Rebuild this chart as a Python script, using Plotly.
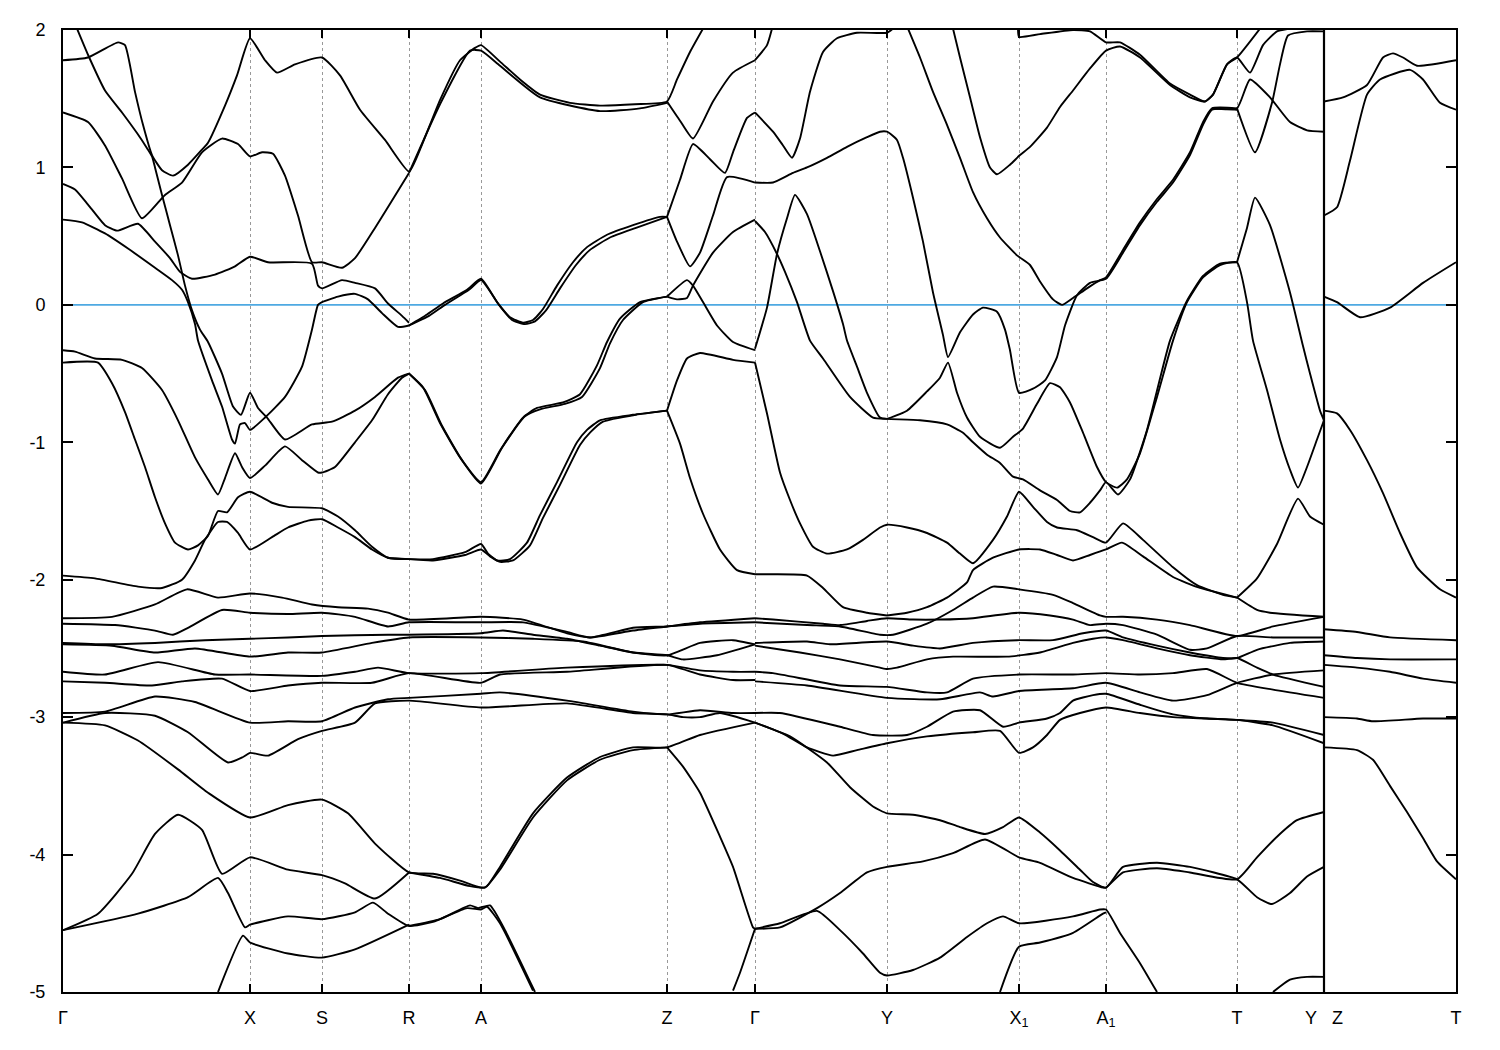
import plotly.graph_objects as go

# high-symmetry path positions and labels
tick_k = [0.0, 1.87, 2.59, 3.46, 4.18, 6.04, 6.92, 8.24, 9.56, 10.43, 11.74, 12.61, 13.93]
tick_lab = ["Γ", "X", "S", "R", "A", "Z", "Γ", "Y", "X<sub>1</sub>", "A<sub>1</sub>", "T",
            "Y\u00a0\u00a0\u00a0Z", "T"]
e_ticks = [2, 1, 0, -1, -2, -3, -4, -5]
e_lab = ["2", "1", "0", "-1", "-2", "-3", "-4", "-5"]

# ---- bands above about -2 eV (k, E in eV) ----
bands_upper = [
    [(0,1.78),(0.25,1.80),(0.55,1.91),(0.62,1.89),(0.72,1.55),(0.80,1.31),(0.89,1.09),(0.99,0.98),(1.10,0.94),(1.25,1.02),(1.39,1.13),(1.45,1.18),(1.62,1.45),(1.74,1.67),(1.87,1.94),(2.02,1.78),(2.14,1.69),(2.32,1.75),(2.59,1.80),(2.77,1.67),(2.97,1.42),(3.22,1.20),(3.46,0.97),(3.57,1.13),(3.77,1.49),(3.97,1.78),(4.12,1.87),(4.18,1.89),(4.37,1.77),(4.57,1.64),(4.77,1.53),(5.07,1.47),(5.37,1.45),(5.72,1.46),(6.04,1.48),(6.14,1.64),(6.27,1.84),(6.40,2.01)],
    [(3.46,0.96),(3.77,1.46),(4.07,1.85),(4.18,1.85),(4.37,1.74),(4.77,1.51),(5.37,1.41),(5.77,1.43),(6.04,1.47)],
    [(0,1.40),(0.25,1.33),(0.42,1.16),(0.59,0.92),(0.79,0.63),(1.02,0.80),(1.19,0.89),(1.39,1.11),(1.59,1.21),(1.75,1.17),(1.87,1.08),(1.99,1.11),(2.10,1.10),(2.22,0.94),(2.35,0.65),(2.49,0.31),(2.59,0.31),(2.79,0.27),(2.92,0.34),(3.12,0.56),(3.46,0.96)],
    [(0.14,2.01),(0.25,1.82),(0.42,1.56),(0.59,1.40),(0.74,1.25),(0.84,1.14),(0.89,1.08),(0.92,1.00),(0.99,0.80),(1.07,0.58),(1.15,0.36),(1.22,0.14),(1.29,-0.04),(1.37,-0.18),(1.45,-0.27),(1.59,-0.50),(1.70,-0.74),(1.78,-0.80),(1.87,-0.64),(1.95,-0.75),(2.04,-0.82),(2.22,-0.98),(2.49,-0.87),(2.69,-0.85),(2.92,-0.77),(3.12,-0.67),(3.35,-0.53),(3.46,-0.50)],
    [(0,0.62),(0.19,0.60),(0.42,0.52),(0.65,0.41),(0.92,0.27),(1.09,0.18),(1.19,0.11),(1.25,0.02),(1.32,-0.14),(1.35,-0.26),(1.49,-0.55),(1.59,-0.74),(1.69,-0.98),(1.72,-1.01),(1.77,-0.87),(1.82,-0.86),(1.87,-0.91),(2.02,-0.82),(2.22,-0.67),(2.39,-0.45),(2.49,-0.18),(2.55,0.00),(2.59,0.02),(2.75,0.06),(2.92,0.08),(3.05,0.04),(3.19,-0.06),(3.35,-0.16),(3.46,-0.15)],
    [(0,0.88),(0.12,0.84),(0.25,0.73),(0.42,0.58),(0.54,0.54),(0.75,0.59),(0.92,0.46),(1.07,0.34),(1.17,0.24),(1.29,0.19),(1.52,0.22),(1.72,0.28),(1.87,0.35),(2.05,0.31),(2.49,0.30),(2.55,0.14),(2.59,0.12),(2.79,0.18),(2.92,0.16),(3.12,0.12),(3.25,0.01),(3.39,-0.08),(3.46,-0.13)],
    [(0,-0.33),(0.12,-0.34),(0.32,-0.39),(0.59,-0.40),(0.79,-0.46),(0.99,-0.62),(1.15,-0.84),(1.32,-1.11),(1.45,-1.27),(1.55,-1.38),(1.62,-1.26),(1.72,-1.08),(1.79,-1.18),(1.87,-1.26),(2.02,-1.17),(2.22,-1.03),(2.39,-1.13),(2.55,-1.22),(2.59,-1.22),(2.72,-1.18),(2.92,-1.00),(3.09,-0.84),(3.25,-0.65),(3.39,-0.53),(3.46,-0.50)],
    [(3.46,-0.50),(3.60,-0.60),(3.77,-0.86),(3.97,-1.11),(4.18,-1.29),(4.37,-1.06),(4.60,-0.82),(4.74,-0.75),(5.00,-0.71),(5.17,-0.65),(5.34,-0.44),(5.44,-0.27),(5.57,-0.10),(5.77,0.02),(6.04,0.06)],
    [(3.46,-0.50),(3.62,-0.62),(3.79,-0.88),(3.99,-1.13),(4.18,-1.30),(4.39,-1.04),(4.62,-0.81),(4.77,-0.76),(5.02,-0.72),(5.19,-0.67),(5.37,-0.46),(5.47,-0.28),(5.60,-0.11),(5.80,0.02),(6.04,0.06)],
    [(3.46,-0.15),(3.64,-0.07),(3.80,0.01),(4.04,0.11),(4.18,0.19),(4.34,0.02),(4.47,-0.09),(4.60,-0.13),(4.70,-0.11),(4.80,-0.03),(4.94,0.14),(5.10,0.31),(5.24,0.42),(5.44,0.51),(5.70,0.58),(5.97,0.64),(6.04,0.64)],
    [(3.46,-0.15),(3.66,-0.08),(3.82,0.00),(4.06,0.11),(4.18,0.18),(4.36,0.00),(4.49,-0.11),(4.62,-0.14),(4.72,-0.12),(4.83,-0.04),(4.97,0.12),(5.13,0.29),(5.27,0.40),(5.47,0.49),(5.73,0.56),(6.04,0.64)],
    [(6.04,1.48),(6.17,1.34),(6.30,1.21),(6.50,1.48),(6.70,1.69),(6.92,1.78)],
    [(6.04,0.64),(6.17,0.91),(6.30,1.17),(6.47,1.06),(6.62,0.96),(6.70,1.11),(6.84,1.36),(6.92,1.40)],
    [(6.04,0.64),(6.14,0.46),(6.27,0.28),(6.37,0.38),(6.50,0.65),(6.64,0.93),(6.92,0.89)],
    [(6.04,0.06),(6.24,0.18),(6.30,0.14),(6.40,0.02),(6.54,-0.15),(6.70,-0.27),(6.92,-0.33)],
    [(6.04,0.06),(6.14,0.04),(6.24,0.05),(6.30,0.14),(6.50,0.38),(6.70,0.53),(6.92,0.62)],
    [(3.46,-1.85),(3.70,-1.85),(4.02,-1.80),(4.18,-1.74),(4.25,-1.81),(4.34,-1.86),(4.47,-1.85),(4.64,-1.73),(4.77,-1.53),(4.94,-1.29),(5.14,-1.00),(5.24,-0.91),(5.37,-0.84),(5.70,-0.80),(6.04,-0.77)],
    [(3.46,-1.85),(3.70,-1.86),(4.02,-1.82),(4.18,-1.78),(4.27,-1.83),(4.37,-1.87),(4.50,-1.86),(4.67,-1.75),(4.80,-1.55),(4.97,-1.31),(5.17,-1.02),(5.27,-0.93),(5.40,-0.85),(5.73,-0.80),(6.04,-0.77)],
    [(6.04,-0.77),(6.14,-0.55),(6.24,-0.39),(6.37,-0.35),(6.70,-0.40),(6.92,-0.42)],
    [(6.04,-0.77),(6.17,-1.01),(6.27,-1.26),(6.40,-1.52),(6.57,-1.78),(6.74,-1.93),(6.92,-1.96)],
    [(0,-0.42),(0.35,-0.42),(0.49,-0.57),(0.62,-0.78),(0.72,-0.98),(0.82,-1.18),(0.92,-1.40),(1.02,-1.59),(1.12,-1.73),(1.25,-1.78),(1.35,-1.75),(1.45,-1.68),(1.55,-1.50),(1.64,-1.51),(1.75,-1.40),(1.87,-1.36),(2.09,-1.44),(2.25,-1.47),(2.59,-1.48),(2.75,-1.54),(2.92,-1.64),(3.09,-1.76),(3.25,-1.84),(3.46,-1.85)],
    [(0,-1.97),(0.32,-1.99),(0.75,-2.05),(0.99,-2.06),(1.19,-2.00),(1.32,-1.86),(1.42,-1.71),(1.55,-1.58),(1.64,-1.58),(1.75,-1.66),(1.87,-1.78),(2.09,-1.69),(2.25,-1.62),(2.45,-1.57),(2.59,-1.56),(2.75,-1.62),(2.92,-1.69),(3.09,-1.78),(3.25,-1.84),(3.46,-1.85)],
    [(6.92,1.78),(7.04,1.89),(7.09,2.01)],
    [(6.92,1.40),(7.10,1.26),(7.20,1.16),(7.29,1.07),(7.37,1.21),(7.47,1.55),(7.60,1.84),(7.74,1.94),(7.94,1.98),(8.24,1.98),(8.30,2.01)],
    [(6.92,0.89),(7.10,0.89),(7.30,0.96),(7.44,1.00),(7.64,1.07),(7.84,1.15),(8.04,1.22),(8.17,1.26),(8.24,1.26),(8.34,1.20),(8.40,1.07),(8.50,0.78),(8.60,0.46),(8.70,0.09),(8.80,-0.22),(8.85,-0.38),(8.97,-0.20),(9.10,-0.07),(9.20,-0.02),(9.34,-0.05),(9.42,-0.18),(9.47,-0.33),(9.56,-0.64),(9.70,-0.61),(9.82,-0.55),(9.94,-0.38),(10.02,-0.15),(10.14,0.07),(10.27,0.16),(10.43,0.19),(10.60,0.38),(10.77,0.58),(10.94,0.75),(11.10,0.89),(11.27,1.09),(11.40,1.31),(11.49,1.42),(11.74,1.42)],
    [(8.24,-0.83),(8.44,-0.77),(8.64,-0.63),(8.77,-0.53),(8.85,-0.42),(8.94,-0.64),(9.04,-0.82),(9.17,-0.96),(9.37,-1.04),(9.50,-0.96),(9.60,-0.90),(9.74,-0.72),(9.87,-0.57),(9.97,-0.60),(10.07,-0.71),(10.20,-0.93),(10.34,-1.18),(10.43,-1.29),(10.54,-1.33),(10.64,-1.27),(10.77,-1.08),(10.94,-0.67),(11.10,-0.26),(11.24,0.02),(11.40,0.20),(11.57,0.29),(11.74,0.31),(11.84,0.02),(11.90,-0.26),(12.04,-0.62),(12.17,-0.98),(12.27,-1.20),(12.35,-1.33),(12.44,-1.18),(12.54,-0.98),(12.61,-0.84)],
    [(11.74,0.31),(11.84,0.56),(11.92,0.78),(12.07,0.58),(12.27,0.09),(12.40,-0.30),(12.47,-0.50),(12.57,-0.77),(12.61,-0.84)],
    [(6.92,-0.42),(7.04,-0.79),(7.17,-1.22),(7.27,-1.42),(7.37,-1.59),(7.50,-1.76),(7.64,-1.81),(7.84,-1.78),(8.00,-1.71),(8.17,-1.62),(8.24,-1.60),(8.44,-1.62),(8.64,-1.66),(8.84,-1.73),(8.97,-1.81),(9.10,-1.88),(9.30,-1.71),(9.44,-1.54),(9.56,-1.36),(9.70,-1.47),(9.84,-1.58),(9.94,-1.62),(10.14,-1.64),(10.30,-1.69),(10.43,-1.73),(10.60,-1.59),(10.80,-1.71),(11.10,-1.91),(11.34,-2.04),(11.60,-2.11),(11.74,-2.13)],
    [(8.24,-2.26),(8.44,-2.24),(8.64,-2.20),(8.84,-2.13),(9.04,-2.02),(9.10,-1.93),(9.30,-1.84),(9.56,-1.78),(9.77,-1.78),(9.94,-1.82),(10.10,-1.86),(10.27,-1.82),(10.43,-1.78),(10.59,-1.73),(10.80,-1.83),(11.10,-1.98),(11.37,-2.06),(11.74,-2.13)],
    [(6.92,0.61),(7.02,0.53),(7.14,0.37),(7.22,0.24),(7.34,0.02),(7.47,-0.26),(7.60,-0.39),(7.87,-0.67),(8.10,-0.82),(8.24,-0.83),(8.57,-0.84),(8.84,-0.87),(9.00,-0.93),(9.10,-1.00),(9.24,-1.09),(9.37,-1.15),(9.50,-1.25),(9.60,-1.27),(9.77,-1.35),(9.94,-1.42),(10.07,-1.50),(10.17,-1.51),(10.27,-1.44),(10.37,-1.35),(10.43,-1.29),(10.55,-1.38),(10.67,-1.27),(10.84,-0.91),(11.07,-0.26),(11.24,0.03),(11.40,0.21),(11.57,0.30),(11.74,0.31)],
    [(6.92,-0.32),(7.04,-0.02),(7.14,0.37),(7.24,0.63),(7.32,0.80),(7.44,0.66),(7.57,0.39),(7.70,0.10),(7.80,-0.14),(7.84,-0.26),(7.94,-0.45),(8.04,-0.64),(8.17,-0.82),(8.24,-0.83)],
    [(8.45,2.01),(8.57,1.80),(8.70,1.55),(8.84,1.31),(8.97,1.07),(9.10,0.82),(9.24,0.63),(9.37,0.49),(9.54,0.36),(9.67,0.29),(9.77,0.17),(9.90,0.04),(9.99,0.00),(10.10,0.05),(10.24,0.12),(10.37,0.18),(10.43,0.20),(10.60,0.40),(10.77,0.60),(10.94,0.77),(11.10,0.91),(11.27,1.11),(11.40,1.33),(11.49,1.43),(11.74,1.43)],
    [(8.90,2.01),(8.97,1.80),(9.07,1.51),(9.17,1.22),(9.27,1.00),(9.34,0.95),(9.47,1.02),(9.57,1.09),(9.67,1.15),(9.84,1.29),(9.97,1.44),(10.10,1.56),(10.27,1.72),(10.43,1.85),(10.57,1.88),(10.77,1.80),(11.07,1.60),(11.27,1.51),(11.42,1.48),(11.50,1.53),(11.64,1.75),(11.74,1.80),(11.87,1.69),(12.00,1.89),(12.14,1.99),(12.27,2.01)],
    [(9.55,2.01),(9.56,1.95),(9.77,1.97),(10.10,2.00),(10.27,1.99),(10.43,1.91),(10.57,1.91),(10.77,1.82),(11.07,1.61),(11.27,1.53),(11.42,1.48),(11.50,1.53),(11.64,1.75),(11.74,1.80),(11.97,2.01)],
    [(11.49,1.43),(11.74,1.43),(11.87,1.64),(12.07,1.51),(12.27,1.33),(12.44,1.27),(12.61,1.26)],
    [(11.74,1.43),(11.92,1.11),(12.09,1.47),(12.17,1.75),(12.25,1.96),(12.44,1.99),(12.61,1.99)],
    [(11.74,-2.13),(11.94,-1.99),(12.14,-1.74),(12.35,-1.41),(12.47,-1.54),(12.61,-1.60)],
    [(11.74,-2.13),(11.94,-2.22),(12.07,-2.24),(12.61,-2.27)],
    [(6.92,-1.96),(7.10,-1.96),(7.44,-1.97),(7.60,-2.06),(7.80,-2.20),(8.04,-2.24),(8.24,-2.26)],
]

# ---- bands between about -2.2 and -5 eV ----
bands_lower = [
    [(0,-2.28),(0.49,-2.27),(0.92,-2.18),(1.24,-2.07),(1.55,-2.13),(1.87,-2.10),(2.19,-2.13),(2.49,-2.18),(2.75,-2.20),(3.05,-2.21),(3.25,-2.24),(3.46,-2.29),(4.18,-2.27),(4.60,-2.29),(5.04,-2.39),(5.27,-2.42),(5.70,-2.37),(6.04,-2.34),(6.37,-2.31),(6.92,-2.28)],
    [(0,-2.32),(0.52,-2.33),(0.92,-2.37),(1.10,-2.40),(1.25,-2.35),(1.59,-2.22),(1.87,-2.24),(2.25,-2.25),(2.59,-2.24),(2.92,-2.27),(3.25,-2.34),(3.46,-2.31),(4.18,-2.31),(4.60,-2.31),(5.04,-2.38),(5.27,-2.42),(5.70,-2.35),(6.04,-2.34),(6.37,-2.32),(6.92,-2.31)],
    [(0,-2.46),(0.42,-2.47),(0.92,-2.46),(1.42,-2.44),(1.87,-2.43),(2.25,-2.42),(2.59,-2.41),(3.25,-2.40),(3.46,-2.40),(4.18,-2.39),(4.40,-2.37),(4.70,-2.40),(5.04,-2.43),(5.37,-2.48),(5.70,-2.53),(6.04,-2.55),(6.37,-2.46),(6.70,-2.44),(6.92,-2.47)],
    [(0,-2.47),(0.49,-2.48),(0.92,-2.53),(1.32,-2.50),(1.87,-2.56),(2.25,-2.53),(2.59,-2.53),(3.09,-2.46),(3.46,-2.42),(4.18,-2.42),(4.70,-2.43),(5.20,-2.45),(5.70,-2.53),(6.04,-2.55),(6.20,-2.58),(6.54,-2.55),(6.92,-2.47)],
    [(0,-2.67),(0.42,-2.69),(0.95,-2.60),(1.52,-2.69),(1.87,-2.69),(2.59,-2.70),(2.92,-2.67),(3.15,-2.64),(3.46,-2.68),(4.18,-2.68),(5.04,-2.64),(6.04,-2.62),(6.37,-2.66),(6.70,-2.67),(6.92,-2.67)],
    [(0,-2.74),(0.42,-2.75),(0.89,-2.77),(1.19,-2.74),(1.59,-2.72),(1.87,-2.81),(2.25,-2.77),(2.59,-2.75),(3.09,-2.75),(3.46,-2.68),(4.18,-2.75),(4.37,-2.69),(5.04,-2.67),(6.04,-2.62),(6.37,-2.69),(6.70,-2.73),(6.92,-2.73)],
    [(0,-2.97),(0.42,-2.96),(0.92,-2.85),(1.32,-2.89),(1.87,-3.04),(2.25,-3.03),(2.59,-3.03),(2.92,-2.93),(3.25,-2.87),(3.46,-2.86),(4.18,-2.83),(4.37,-2.82),(5.04,-2.88),(5.70,-2.96),(6.04,-2.98),(6.37,-2.95),(6.70,-2.97),(6.92,-2.97)],
    [(0,-3.04),(0.42,-2.97),(0.92,-2.99),(1.25,-3.11),(1.65,-3.33),(1.80,-3.29),(1.87,-3.26),(2.05,-3.28),(2.35,-3.16),(2.59,-3.10),(2.92,-3.04),(3.12,-2.90),(3.46,-2.88),(4.18,-2.93),(5.04,-2.90),(5.70,-2.97),(6.04,-2.98),(6.20,-3.00),(6.37,-3.00),(6.57,-2.97),(6.92,-3.04)],
    [(0,-3.04),(0.42,-3.06),(0.75,-3.17),(1.15,-3.38),(1.45,-3.55),(1.87,-3.73),(2.25,-3.64),(2.59,-3.60),(2.85,-3.70),(3.12,-3.92),(3.46,-4.13),(3.70,-4.14),(3.97,-4.19),(4.18,-4.24),(4.24,-4.23),(4.37,-4.09),(4.70,-3.70),(5.04,-3.44),(5.37,-3.29),(5.70,-3.22),(6.04,-3.22),(6.37,-3.13),(6.92,-3.04)],
    [(3.46,-4.13),(3.77,-4.17),(4.07,-4.23),(4.22,-4.24),(4.37,-4.11),(4.70,-3.73),(5.04,-3.46),(5.37,-3.31),(5.70,-3.24),(6.04,-3.22)],
    [(0,-4.55),(0.35,-4.43),(0.69,-4.14),(0.92,-3.85),(1.15,-3.71),(1.39,-3.82),(1.59,-4.14),(1.87,-4.02),(2.25,-4.11),(2.59,-4.15),(2.82,-4.21),(3.12,-4.32),(3.46,-4.13)],
    [(0,-4.55),(0.75,-4.43),(1.25,-4.31),(1.55,-4.17),(1.65,-4.28),(1.82,-4.53),(1.87,-4.51),(2.25,-4.45),(2.59,-4.47),(2.92,-4.42),(3.10,-4.35),(3.25,-4.43),(3.46,-4.52),(3.70,-4.49),(4.04,-4.39),(4.18,-4.40),(4.24,-4.38),(4.37,-4.50),(4.70,-4.99)],
    [(3.46,-4.52),(3.77,-4.47),(4.07,-4.37),(4.15,-4.39),(4.27,-4.37),(4.42,-4.55),(4.72,-5.00)],
    [(1.55,-5.00),(1.80,-4.59),(1.87,-4.64),(2.25,-4.72),(2.59,-4.75),(2.92,-4.69),(3.46,-4.51)],
    [(6.04,-3.22),(6.20,-3.36),(6.37,-3.55),(6.57,-3.87),(6.70,-4.09),(6.90,-4.53),(6.92,-4.54)],
    [(6.70,-4.99),(6.77,-4.86),(6.92,-4.54)],
    [(6.92,-2.28),(7.10,-2.29),(7.60,-2.32),(7.77,-2.33),(8.04,-2.30),(8.24,-2.28),(8.50,-2.29),(8.77,-2.29),(9.10,-2.28),(9.56,-2.24),(9.87,-2.26),(10.10,-2.29),(10.27,-2.33),(10.43,-2.32),(10.60,-2.33),(10.94,-2.40),(11.27,-2.51),(11.44,-2.50),(11.74,-2.41),(12.10,-2.42),(12.61,-2.42)],
    [(6.92,-2.31),(7.44,-2.33),(7.77,-2.34),(8.17,-2.40),(8.30,-2.40),(8.64,-2.32),(8.90,-2.22),(9.10,-2.13),(9.30,-2.05),(9.56,-2.07),(9.90,-2.11),(10.10,-2.17),(10.37,-2.26),(10.43,-2.27),(10.60,-2.27),(10.94,-2.29),(11.27,-2.33),(11.74,-2.41),(12.10,-2.34),(12.61,-2.27)],
    [(6.92,-2.46),(7.44,-2.45),(7.67,-2.47),(8.24,-2.45),(8.50,-2.48),(8.77,-2.50),(9.10,-2.46),(9.54,-2.44),(9.90,-2.44),(10.20,-2.39),(10.43,-2.37),(10.60,-2.42),(10.94,-2.48),(11.27,-2.53),(11.60,-2.57),(11.74,-2.57),(11.94,-2.51),(12.27,-2.46),(12.61,-2.45)],
    [(6.92,-2.48),(7.37,-2.53),(7.77,-2.58),(8.17,-2.64),(8.24,-2.65),(8.34,-2.64),(8.64,-2.58),(8.90,-2.56),(9.44,-2.56),(9.77,-2.53),(10.10,-2.46),(10.30,-2.43),(10.43,-2.42),(10.60,-2.44),(10.94,-2.50),(11.27,-2.55),(11.60,-2.58),(11.74,-2.57),(11.94,-2.64),(12.10,-2.69),(12.61,-2.78)],
    [(6.92,-2.67),(7.10,-2.68),(7.77,-2.77),(8.24,-2.78),(8.64,-2.82),(8.84,-2.82),(9.10,-2.72),(9.56,-2.69),(10.10,-2.69),(10.43,-2.68),(10.77,-2.69),(11.10,-2.68),(11.44,-2.65),(11.74,-2.75),(12.10,-2.80),(12.61,-2.86)],
    [(6.92,-2.74),(7.44,-2.77),(8.24,-2.86),(8.77,-2.87),(9.17,-2.82),(9.30,-2.85),(9.56,-2.81),(10.10,-2.79),(10.43,-2.75),(10.77,-2.82),(11.10,-2.88),(11.44,-2.84),(11.74,-2.75),(12.10,-2.69),(12.61,-2.66)],
    [(6.92,-2.97),(7.17,-2.97),(7.77,-3.07),(8.10,-3.13),(8.44,-3.13),(8.64,-3.07),(8.90,-2.96),(9.17,-2.95),(9.40,-3.07),(9.56,-3.04),(9.84,-3.01),(9.97,-2.97),(10.10,-2.88),(10.30,-2.84),(10.43,-2.83),(10.77,-2.91),(11.10,-2.98),(11.44,-3.01),(11.74,-3.02),(12.10,-3.04),(12.61,-3.13)],
    [(6.92,-3.04),(7.20,-3.12),(7.44,-3.22),(7.70,-3.28),(7.94,-3.24),(8.24,-3.19),(8.64,-3.14),(9.10,-3.11),(9.37,-3.10),(9.56,-3.26),(9.70,-3.22),(9.84,-3.13),(9.97,-3.02),(10.17,-2.97),(10.43,-2.93),(10.77,-2.97),(11.10,-3.00),(11.44,-3.01),(11.74,-3.02),(12.10,-3.06),(12.61,-3.19)],
    [(6.92,-3.04),(7.27,-3.14),(7.64,-3.33),(7.87,-3.51),(8.10,-3.65),(8.24,-3.70),(8.50,-3.71),(8.77,-3.75),(8.97,-3.80),(9.22,-3.85),(9.40,-3.80),(9.56,-3.73),(9.77,-3.84),(9.97,-3.97),(10.17,-4.11),(10.30,-4.20),(10.43,-4.24),(10.60,-4.09),(10.94,-4.06),(11.27,-4.09),(11.74,-4.18),(11.94,-4.31),(12.09,-4.36),(12.27,-4.28),(12.44,-4.16),(12.61,-4.09)],
    [(6.92,-4.54),(7.17,-4.53),(7.54,-4.39),(7.77,-4.28),(8.04,-4.13),(8.24,-4.09),(8.60,-4.05),(8.90,-3.99),(9.22,-3.89),(9.56,-4.02),(9.77,-4.06),(10.10,-4.17),(10.40,-4.24),(10.43,-4.24),(10.60,-4.13),(10.94,-4.10),(11.27,-4.13),(11.74,-4.18),(11.94,-4.02),(12.14,-3.87),(12.34,-3.75),(12.61,-3.69)],
    [(6.92,-4.54),(7.17,-4.50),(7.54,-4.41),(7.77,-4.55),(8.00,-4.72),(8.17,-4.86),(8.24,-4.88),(8.50,-4.84),(8.77,-4.75),(9.04,-4.60),(9.24,-4.50),(9.40,-4.45),(9.56,-4.50),(10.10,-4.45),(10.37,-4.40),(10.43,-4.40),(10.57,-4.57),(10.77,-4.79),(10.94,-5.00)],
    [(9.37,-5.00),(9.56,-4.67),(9.77,-4.64),(10.10,-4.57),(10.40,-4.43),(10.43,-4.42)],
    [(12.10,-5.00),(12.27,-4.91),(12.44,-4.89),(12.61,-4.89)],
]

# ---- Z -> T segment ----
bands_zt = [
    [(12.61,1.48),(12.80,1.51),(13.04,1.60),(13.20,1.80),(13.30,1.83),(13.40,1.80),(13.54,1.74),(13.93,1.78)],
    [(12.61,0.65),(12.74,0.71),(12.87,1.05),(13.04,1.53),(13.17,1.64),(13.47,1.71),(13.60,1.64),(13.77,1.47),(13.93,1.42)],
    [(12.61,0.06),(12.74,0.02),(12.97,-0.09),(13.27,-0.02),(13.60,0.16),(13.93,0.31)],
    [(12.61,-0.77),(12.74,-0.79),(12.87,-0.91),(13.04,-1.13),(13.20,-1.37),(13.37,-1.66),(13.54,-1.91),(13.77,-2.07),(13.93,-2.13)],
    [(12.61,-2.36),(12.94,-2.38),(13.27,-2.42),(13.93,-2.44)],
    [(12.61,-2.55),(12.94,-2.57),(13.27,-2.58),(13.93,-2.58)],
    [(12.61,-2.62),(12.94,-2.64),(13.27,-2.67),(13.60,-2.72),(13.93,-2.75)],
    [(12.61,-3.00),(12.94,-3.01),(13.10,-3.03),(13.60,-3.01),(13.93,-3.01)],
    [(12.61,-3.22),(12.94,-3.24),(13.10,-3.31),(13.27,-3.50),(13.44,-3.69),(13.60,-3.88),(13.74,-4.05),(13.93,-4.18)],
]

fermi_level = 0.0


def to_xy(curves):
    xs, ys = [], []
    for c in curves:
        for k, e in c:
            xs.append(k)
            ys.append(e)
        xs.append(None)
        ys.append(None)
    return xs, ys


fig = go.Figure()
kmin, kmax = tick_k[0], tick_k[-1]
fig.add_trace(go.Scatter(x=[kmin, kmax], y=[fermi_level, fermi_level], mode="lines",
                         line=dict(color="#4ea9e2", width=1.6), hoverinfo="skip", showlegend=False))
for group in (bands_upper, bands_lower, bands_zt):
    xs, ys = to_xy(group)
    fig.add_trace(go.Scatter(x=xs, y=ys, mode="lines",
                             line=dict(color="black", width=1.9, shape="spline", smoothing=0.5),
                             hoverinfo="skip", showlegend=False))
# discontinuity Y|Z drawn as a solid vertical line
fig.add_trace(go.Scatter(x=[tick_k[11], tick_k[11]], y=[e_ticks[-1], e_ticks[0]], mode="lines",
                         line=dict(color="black", width=2.2), hoverinfo="skip", showlegend=False))

fig.update_layout(
    width=1500, height=1050,
    margin=dict(l=55, r=52, t=22, b=66),
    paper_bgcolor="white", plot_bgcolor="white",
    font=dict(family="Liberation Sans, Arial", size=18, color="black"),
    xaxis=dict(range=[kmin, kmax], tickvals=tick_k, ticktext=tick_lab, ticks="inside", ticklen=8,
               tickwidth=1.5, tickcolor="black", showline=True, linewidth=2, linecolor="black",
               mirror="ticks", showgrid=True, gridcolor="#999999", gridwidth=1, griddash="3px,3px",
               zeroline=False, tickfont=dict(size=18), ticklabelstandoff=8),
    yaxis=dict(range=[e_ticks[-1], e_ticks[0]], tickvals=e_ticks, ticktext=e_lab, ticks="inside", ticklen=10,
               tickwidth=1.5, tickcolor="black", showline=True, linewidth=2, linecolor="black",
               mirror="ticks", showgrid=False, zeroline=False, tickfont=dict(size=18),
               ticklabelstandoff=12),
)
fig.write_html("out.html")
